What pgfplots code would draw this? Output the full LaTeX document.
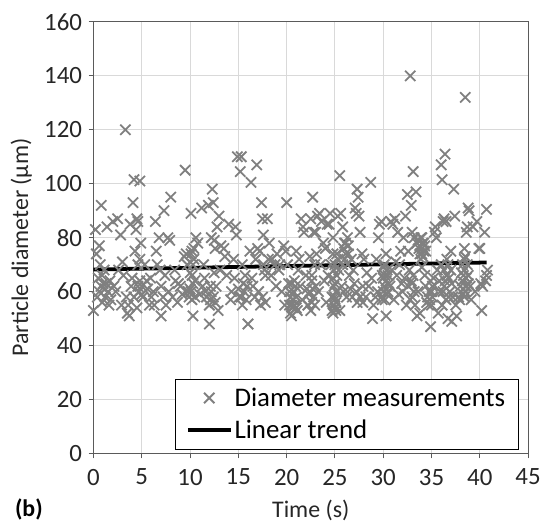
\documentclass[border=0pt]{standalone}
\usepackage{pgfplots}
\pgfplotsset{compat=1.18}
\usepackage{pgfplotstable}
\usepackage{fontspec}
\setmainfont{Carlito}
\definecolor{markgray}{RGB}{128,128,128}
\definecolor{gridgray}{RGB}{217,217,217}
\definecolor{axgray}{RGB}{90,90,90}

\pgfplotstableread{
x y
0 53
0.2 83
0.3 74
0.6 77
0.5 65
0.8 92
0.9 66
1 63
1.2 61
1.5 60
1.4 84
1.8 57
1.6 55
2 86
2.1 62
0.4 58
0.7 70
1.1 68
2.3 60
2.5 87
0.9 56
1.3 63
0.6 60
0.8 62
1.2 58
1.7 64
2.8 81
3.3 120
3 71
3.5 52
3.7 51
3.6 55
3.8 85
3.9 62
4.1 93
4.2 101.5
4.3 75
4.4 83
4.5 87
4.6 86
4.8 101
4.9 78
4.7 60
4.2 58
3.4 58
3.1 66
4 65
4.5 54
5 62
5.1 58
4.8 72
2.6 68
2.9 55
4.6 70
4.6 62
4.8 64
5 59
5.5 64
5.8 55
6 58
6.2 60
6.4 86
6.5 75
6.6 70
6.3 55
6.8 80
7 51
7 62
7.2 58
7.4 66
7.5 55
5.3 70
5.6 61
6.9 68
7.3 90
5.9 65
7.7 80
7.9 79
8 95
7.8 60
8.2 58
8.5 64
8.7 56
9 62
9.2 59
9.5 105
9.4 73
9.6 74
9.8 60
10 61
10.1 89
10.2 75
10.3 51
10.4 76
10.5 64
10.6 80
10.2 57
9.7 70
8.4 68
8.8 63
10 67
10.3 70
9.9 58
10.1 60
10.3 63
10.2 66
10.4 72
10.1 74
10.5 58
10.8 78
11 59
11.2 91
11.5 65
11.7 58
11.9 92
12 48
12.1 57
12.3 98
12.4 93
12.2 80
12.5 79
12.6 76
12.7 62
12.8 84
11.3 62
11.6 60
12.9 53
12 55
11.4 70
12.5 67
12.2 60
12.4 58
12.1 62
12.6 56
13 88
13.2 77
13.5 76
13.8 66
14 85
14.2 57
14.5 72
14.7 84
14.8 81
14.9 110
15 61
15.2 104.5
15.3 110
15.4 70
14.3 60
13.6 73
13.1 68
14.6 65
15.1 58
15.5 63
15.3 58
15.6 60
15.9 62
15.4 55
15.8 57
16 48
16.2 75
16.3 100.5
16.5 62
16.7 58
16.9 107
17 76
17.1 60
17.3 55
17.4 93
17.5 87
17.6 81
17.7 68
17.2 75
16.4 65
15.7 66
16.8 72
17.5 58
17.8 56
17.6 70
17.8 66
18.1 72
18 87
18.2 78
18.5 72
18.8 70
19 74
19.3 70
19.5 60
19.7 77
19.9 75
20 93
20.2 63
20.3 55
20.5 51
20.6 54
20.8 64
18.4 66
19.2 68
19.8 55
20.1 70
20.4 58
20.7 57
18.9 62
20.4 52
20.5 55
20.6 57
20.7 60
20.9 62
21.1 53
20.8 55
20.3 60
21 58
20.5 63
21 75
21 54
21.2 68
21.5 87
21.7 84
21.8 82
22 66
22.1 61
22.3 59
22.4 73
22.7 95
22.5 87
22.8 82
22.2 55
21.4 62
21.6 57
22.6 64
22.9 70
22.5 53
21.3 72
22.6 56
22.8 58
22.7 61
23 62
22.9 55
22.4 60
22.6 66
23 82
23.2 88
23.4 89
23.6 86
23.8 78
24 76
24.2 85
24.4 85
24.6 70
24.8 65
24.9 62
25 58
25 54
25.1 56
24.7 53
24.5 89
23.5 70
23.3 60
23.9 64
24.3 66
25.2 60
24.1 56
23.1 74
24.8 80
24.8 52
24.9 55
25 57
25.1 60
25 63
25.2 66
24.9 68
25 70
25.3 72
24.8 74
25.1 53
24.7 58
25.5 103
25.3 88
25.6 89
25.8 84
26 78
26.1 74
26.3 70
26.5 66
25.4 68
25.7 62
25.9 60
26.2 58
25.5 53
26.4 77
26.7 72
27 63
27.2 89
27.1 91
27.3 98
27.4 95
27.5 88
26.8 58
27.3 56
26.6 61
25.2 74
26.9 68
25.9 76
26.1 78
26.3 80
26 72
26.4 74
25.8 70
27.2 60
27.6 58
27.9 62
27.6 82
27.8 74
28 72
28.3 67
28.5 62
28.7 100.5
28.9 50
29 55
29.2 58
29.4 60
29.6 85
29.8 86
29.5 80
30 65
30.1 70
30.2 66
30.3 51
30.4 59
29.9 57
28.2 58
28.8 65
29.3 72
30.5 60
30.3 74
27.9 56
29.8 58
30 60
30.1 62
30.3 64
30.4 68
30.5 66
30.2 57
30 69
30.6 63
29.9 66
30.8 86
31 85
31.2 87
31.5 82
31.7 70
31.9 63
32 60
32.2 65
32.4 55
32.5 96
32.6 75
30.7 62
31.1 57
31.4 66
31.8 75
32.3 88
31.6 59
31.3 71
30.9 68
32.1 80
32.8 140
32.9 92
33.1 104.5
33 82
33.2 80
33.4 97
33.5 78
33.6 79
33.7 76
33.8 77
33.9 72
34 74
34.1 78
34.2 75
33.3 55
33.5 51
33.8 52
34.3 66
34.5 56
34.7 55
34.9 47
35 55
35.1 58
35.3 82
35.4 84
35.5 80
32.7 68
33 63
34.4 62
34.8 60
35.2 65
33.6 60
34 69
32.8 57
33 58
33.2 60
32.9 64
33.1 66
32.6 62
33.8 74
34 76
34.2 78
34.1 73
33.9 80
34.3 77
34.4 75
34 80
34.6 58
34.8 57
35 60
35.1 62
34.9 64
35.7 52
35.9 60
36 107
36.1 101.5
36.2 86
36.3 87
36.4 111
36.5 86
36.6 72
36.7 50
36.8 65
37 68
37.1 49
37.3 98
37.4 88
35.8 64
36 70
36.3 62
36.5 57
36.9 60
37.2 58
37.5 55
35.6 68
36.1 55
37 75
36.2 60
36.4 64
36.6 66
36.8 58
36.3 68
36.7 70
37.1 63
37.6 51
37.8 58
38 62
38.2 64
38.3 66
38.4 76
38.5 132
38.6 82
38.7 84
38.8 91
38.9 90
38.5 60
38.2 70
38.4 72
38.1 67
38.6 62
39 62
39.3 84
39.5 60
39.7 86
39.9 76
40 76
40.2 53
40.1 63
40.3 62
40.5 82
40.7 90.5
40.7 66
40.8 68
40.6 64
37.9 57
38.3 59
38.8 63
39.1 57
38.4 58
38.5 62
38.6 65
38.4 68
38.7 70
38.5 73
38.3 61
38.8 66
}\diam

\begin{document}
\begin{tikzpicture}
\begin{axis}[
  scale only axis,
  width=437pt, height=434pt,
  xmin=0, xmax=45, ymin=0, ymax=160,
  xtick distance=5, ytick distance=20,
  enlargelimits=false,
  clip=false,
  axis line style={axgray, line width=1pt},
  grid=major,
  major grid style={gridgray, line width=1pt},
  tick align=outside,
  xtick pos=bottom, ytick pos=left,
  major tick length=5pt,
  tick style={axgray, line width=1pt},
  /pgf/number format/assume math mode=true,
  ticklabel style={font=\fontsize{25}{29}\selectfont, text=black!85},
  xticklabel style={yshift=-7pt},
  yticklabel style={xshift=-3pt},
  xlabel={Time (s)},
  ylabel={Particle diameter (µm)},
  label style={font=\fontsize{24}{28}\selectfont, text=black!85},
  xlabel style={at={(axis description cs:0.5,-0.131)}, anchor=center},
  ylabel style={at={(axis description cs:-0.166,0.477)}, anchor=center, rotate=0},
  legend cell align=left,
  legend style={
    at={(axis cs:44,1.5)}, anchor=south east,
    draw=black, line width=0.9pt, fill=white,
    font=\fontsize{27}{31}\selectfont,
    inner xsep=11pt, inner ysep=7pt,
    row sep=8pt,
  },
  legend image code/.code={\draw[mark repeat=2,mark phase=2,#1] plot coordinates {(0pt,0pt) (21.5pt,0pt) (43pt,0pt)};},
]
\addplot[only marks, mark=x, mark size=7.3pt, markgray, mark options={line width=1.8pt}] table[x=x,y=y] {\diam};
\addlegendentry{Diameter measurements}
\addplot[black, line width=3.8pt] coordinates {(0,68.2) (40.7,70.8)};
\addlegendentry{Linear trend}
\end{axis}
\node[font=\bfseries\fontsize{24}{28}\selectfont] at ([xshift=-65pt,yshift=-56pt]current axis.south west) {(b)};
\pgfresetboundingbox
\path[use as bounding box] (current axis.south west) ++(-94pt,-71pt) rectangle ++(545pt,527pt);
\end{tikzpicture}
\end{document}
